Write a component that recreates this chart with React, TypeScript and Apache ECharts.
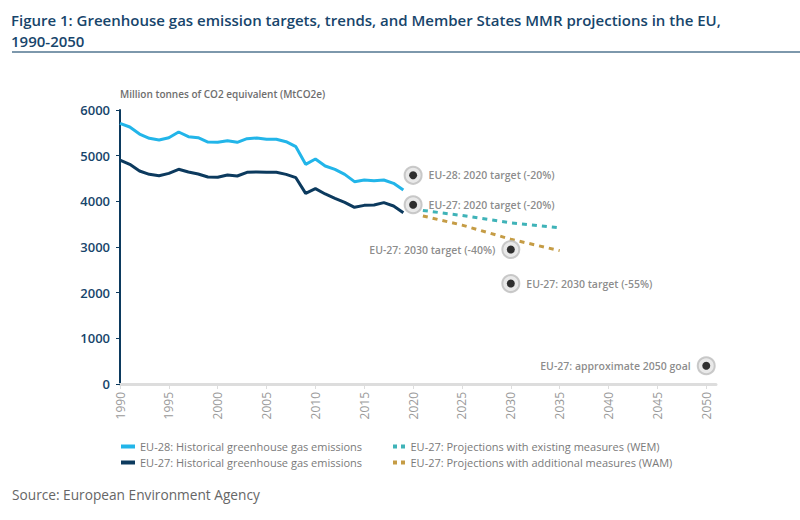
import React, { useEffect, useRef } from "react";
import * as echarts from "echarts";

const histYears = [1990, 1991, 1992, 1993, 1994, 1995, 1996, 1997, 1998, 1999, 2000, 2001, 2002, 2003, 2004, 2005, 2006, 2007, 2008, 2009, 2010, 2011, 2012, 2013, 2014, 2015, 2016, 2017, 2018, 2019];
const eu28Hist = [5708, 5628, 5474, 5380, 5343, 5394, 5518, 5416, 5394, 5299, 5292, 5328, 5292, 5372, 5387, 5358, 5358, 5306, 5197, 4810, 4927, 4774, 4700, 4591, 4431, 4467, 4453, 4467, 4394, 4248];
const eu27Hist = [4905, 4810, 4664, 4591, 4562, 4613, 4701, 4642, 4598, 4533, 4526, 4577, 4555, 4635, 4642, 4635, 4635, 4591, 4518, 4175, 4277, 4161, 4066, 3978, 3869, 3912, 3920, 3971, 3898, 3752];
const projYears = [2021, 2025, 2030, 2035];
const wemProj = [3800, 3690, 3530, 3420];
const wamProj = [3680, 3480, 3170, 2920];
const targetYears = [2020, 2020, 2030, 2030, 2050];
const targetValues = [4570, 3925, 2945, 2200, 400];
const targetLabels = ["EU-28: 2020 target (-20%)", "EU-27: 2020 target (-20%)", "EU-27: 2030 target (-40%)", "EU-27: 2030 target (-55%)", "EU-27: approximate 2050 goal"];
const targetLabelSide = ["right", "right", "left", "right", "left"];
const yTicks = [0, 1000, 2000, 3000, 4000, 5000, 6000];

const seriesNames = [
  "EU-28: Historical greenhouse gas emissions",
  "EU-27: Historical greenhouse gas emissions",
  "EU-27: Projections with existing measures (WEM)",
  "EU-27: Projections with additional measures (WAM)",
];

const C_EU28 = "#22b5e9";
const C_EU27 = "#0c3a5e";
const C_WEM = "#3fb3b8";
const C_WAM = "#c59c45";
const FONT = "'Open Sans', Lato, sans-serif";

export default function App() {
  const ref = useRef<HTMLDivElement>(null);
  useEffect(() => {
    document.body.style.margin = "0";
    const chart = echarts.init(ref.current!, null, { renderer: "svg" });
    const dashIcon = "path://M0,0h4v4h-4z M8,0h4v4h-4z";
    const targets = targetYears.map((y, i) => ({
      value: [y, targetValues[i]],
      label: { position: targetLabelSide[i] as any },
      name: targetLabels[i],
    }));
    const legendText = { color: "#7a7a7a", fontSize: 11, fontFamily: FONT, lineHeight: 13 };
    chart.setOption({
      animation: false,
      backgroundColor: "#ffffff",
      textStyle: { fontFamily: FONT },
      graphic: [
        {
          type: "text",
          left: 11,
          top: 9,
          style: {
            text: "Figure 1: Greenhouse gas emission targets, trends, and Member States MMR projections in the EU,\n1990-2050",
            fill: "#17456b",
            font: "600 15px " + FONT,
            lineHeight: 21,
          },
        },
        {
          type: "rect",
          shape: { x: 12, y: 51, width: 788, height: 2 },
          style: { fill: "#7d98ac" },
        },
        {
          type: "text",
          left: 120,
          top: 89,
          style: {
            text: "Million tonnes of CO2 equivalent (MtCO2e)",
            fill: "#6e6e6e",
            font: "600 10px " + FONT,
          },
        },
        {
          type: "text",
          left: 12,
          top: 487,
          style: {
            text: "Source: European Environment Agency",
            fill: "#666666",
            font: "13.7px " + FONT,
          },
        },
      ],
      legend: [
        {
          left: 116,
          top: 435,
          orient: "vertical",
          itemGap: 3,
          itemWidth: 14,
          itemHeight: 4,
          textStyle: legendText,
          data: [
            { name: seriesNames[0], icon: "rect" },
            { name: seriesNames[1], icon: "rect" },
          ],
        },
        {
          left: 388,
          top: 435,
          orient: "vertical",
          itemGap: 3,
          itemWidth: 13,
          itemHeight: 4,
          textStyle: legendText,
          data: [
            { name: seriesNames[2], icon: dashIcon },
            { name: seriesNames[3], icon: dashIcon },
          ],
        },
      ],
      grid: { left: 120, right: 84, top: 110, bottom: 136 },
      xAxis: {
        type: "value",
        min: 1990,
        max: 2051,
        interval: 5,
        splitLine: { show: false },
        axisLine: { show: true, lineStyle: { color: "#dddddd", width: 3 } },
        axisTick: { show: true, length: 5, lineStyle: { color: "#dddddd", width: 1 } },
        axisLabel: {
          rotate: 90,
          color: "#9a9a9a",
          fontSize: 12,
          margin: 8,
          showMaxLabel: false,
          formatter: (v: number) => (v % 5 === 0 ? String(v) : ""),
        },
      },
      yAxis: {
        type: "value",
        min: 0,
        max: 6000,
        interval: 1000,
        splitLine: { show: false },
        axisLine: { show: true, lineStyle: { color: C_EU27, width: 2 } },
        axisTick: { show: true, length: 4, lineStyle: { color: C_EU27, width: 1 } },
        axisLabel: {
          color: "#17456b",
          fontSize: 13,
          fontWeight: 600,
          margin: 10,
          formatter: (v: number) => (yTicks.includes(v) ? String(v) : ""),
        },
      },
      series: [
        {
          name: seriesNames[0],
          type: "line",
          data: histYears.map((y, i) => [y, eu28Hist[i]]),
          showSymbol: false,
          symbol: "none",
          lineStyle: { color: C_EU28, width: 3 },
          itemStyle: { color: C_EU28 },
        },
        {
          name: seriesNames[1],
          type: "line",
          data: histYears.map((y, i) => [y, eu27Hist[i]]),
          showSymbol: false,
          symbol: "none",
          lineStyle: { color: C_EU27, width: 3 },
          itemStyle: { color: C_EU27 },
        },
        {
          name: seriesNames[2],
          type: "line",
          data: projYears.map((y, i) => [y, wemProj[i]]),
          showSymbol: false,
          symbol: "none",
          lineStyle: { color: C_WEM, width: 3, type: [5, 5] },
          itemStyle: { color: C_WEM },
        },
        {
          name: seriesNames[3],
          type: "line",
          data: projYears.map((y, i) => [y, wamProj[i]]),
          showSymbol: false,
          symbol: "none",
          lineStyle: { color: C_WAM, width: 3, type: [5, 5] },
          itemStyle: { color: C_WAM },
        },
        {
          name: "targetHalo",
          type: "scatter",
          data: targets,
          symbolSize: 17,
          itemStyle: { color: "#e4e4e4", borderColor: "#bdbdbd", borderWidth: 2 },
          label: {
            show: true,
            formatter: (p: any) => p.name,
            color: "#6e6e6e",
            fontSize: 10.5,
            fontWeight: 600,
            fontFamily: FONT,
            distance: 6,
          },
          z: 3,
        },
        {
          name: "targetDot",
          type: "scatter",
          data: targetYears.map((y, i) => [y, targetValues[i]]),
          symbolSize: 8,
          itemStyle: { color: "#000000" },
          z: 4,
        },
      ],
    });
    return () => chart.dispose();
  }, []);
  return <div ref={ref} style={{ width: 800, height: 520 }} />;
}
